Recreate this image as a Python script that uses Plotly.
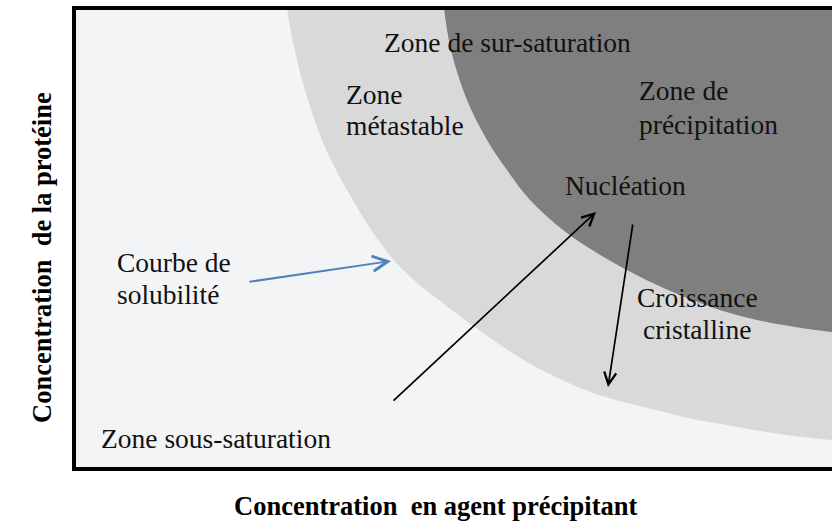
import plotly.graph_objects as go

# Diagram coordinates (x: agent précipitant, y: protéine), in the chart's own units
# Boundary of the metastable (light grey) zone
light_bx = [279, 283, 287, 297, 308, 322, 337, 351, 370, 392, 415, 440, 465, 493, 527, 560, 593, 627, 660, 693, 727, 760, 793, 832, 900, 1000]
light_by = [-80, -40, 8, 60, 100, 140, 172, 197, 228, 258, 281, 301, 320, 340, 362, 379, 393, 403, 411, 419, 425, 431, 436, 440, 445, 447]
# Boundary of the precipitation (dark grey) zone
dark_bx = [436, 440, 444, 451, 467, 487, 507, 530, 563, 597, 627, 657, 690, 723, 757, 795, 832, 900, 1000]
dark_by = [-80, -40, 8, 50, 100, 140, 170, 200, 230, 253, 270, 285, 299, 311, 320, 327, 332, 337, 339]
far_corner = [1100, -300]

# Labels: text, x, baseline y, anchor
labels = [
    ("Zone de sur-saturation", 382, 53, "left"),
    ("Zone", 344, 105, "left"),
    ("métastable", 344, 136, "left"),
    ("Zone de", 637, 101, "left"),
    ("précipitation", 637, 135, "left"),
    ("Nucléation", 563, 196, "left"),
    ("Courbe de", 115, 273, "left"),
    ("solubilité", 115, 305, "left"),
    ("Croissance", 697, 308, "center"),
    ("cristalline", 697, 340, "center"),
    ("Zone sous-saturation", 99, 449, "left"),
]

# Arrows: (tail x, tail y, tip x, tip y, colour)
arrows = [
    (248, 282, 391, 261, "#4f81bd"),
    (392, 402, 596, 212, "#000000"),
    (633, 223, 608, 387, "#000000"),
]

x_title = "Concentration\u00a0 en agent précipitant"
y_title = "Concentration\u00a0 de la protéine"

X0, X1, Y0, Y1 = 74, 832, 469, 8

fig = go.Figure()

def closed(xs, ys):
    return xs + [far_corner[0], far_corner[0]], ys + [ys[-1], far_corner[1]]

lx, ly = closed(light_bx, light_by)
fig.add_trace(go.Scatter(x=lx, y=ly, mode="lines", fill="toself", fillcolor="#d9d9d9",
                         line=dict(width=0, shape="spline", smoothing=1), hoverinfo="skip", showlegend=False))
dx, dy = closed(dark_bx, dark_by)
fig.add_trace(go.Scatter(x=dx, y=dy, mode="lines", fill="toself", fillcolor="#7f7f7f",
                         line=dict(width=0, shape="spline", smoothing=1), hoverinfo="skip", showlegend=False))

FONT = "Liberation Serif, Times New Roman, serif"
FS = 27.5
annotations = []
for text, x, base, anchor in labels:
    annotations.append(dict(text=text, x=x, y=base + 7, xref="x", yref="y", xanchor=anchor,
                            yanchor="bottom", showarrow=False,
                            font=dict(family=FONT, size=FS, color="#111111")))

for tx, ty, hx, hy, col in arrows:
    annotations.append(dict(text="", x=hx, y=hy, ax=tx, ay=ty, xref="x", yref="y", axref="x", ayref="y",
                            showarrow=True, arrowhead=5, arrowsize=1.4 if col == "#000000" else 1.5,
                            arrowwidth=1.7 if col == "#000000" else 2.0, arrowcolor=col, standoff=0))

def px_to_paper_x(v):
    return (v - X0) / (X1 - X0)

def px_to_paper_y(v):
    return (Y0 - v) / (Y0 - Y1)

annotations.append(dict(text="<b>" + x_title + "</b>", x=px_to_paper_x(436), y=px_to_paper_y(523),
                        xref="paper", yref="paper",
                        xanchor="center", yanchor="bottom", showarrow=False,
                        font=dict(family=FONT, size=26.5, color="#000000")))
annotations.append(dict(text="<b>" + y_title + "</b>", x=px_to_paper_x(42), y=px_to_paper_y(258),
                        xref="paper", yref="paper",
                        xanchor="center", yanchor="middle", textangle=-90, showarrow=False,
                        font=dict(family=FONT, size=26.5, color="#000000")))

fig.update_layout(
    width=832, height=524,
    margin=dict(l=X0, r=0, t=Y1, b=524 - Y0, autoexpand=False),
    paper_bgcolor="white", plot_bgcolor="#f3f4f6",
    xaxis=dict(range=[X0, X1], visible=False, fixedrange=True),
    yaxis=dict(range=[Y0, Y1], visible=False, fixedrange=True),
    annotations=annotations,
    shapes=[dict(type="rect", xref="paper", yref="paper", x0=0, x1=1.1, y0=0, y1=1,
                 line=dict(color="black", width=4), layer="above")],
    showlegend=False,
)

fig.write_html("out.html", config={"displayModeBar": False},
               post_script="document.body.style.margin='0px';document.body.style.overflow='hidden';")
